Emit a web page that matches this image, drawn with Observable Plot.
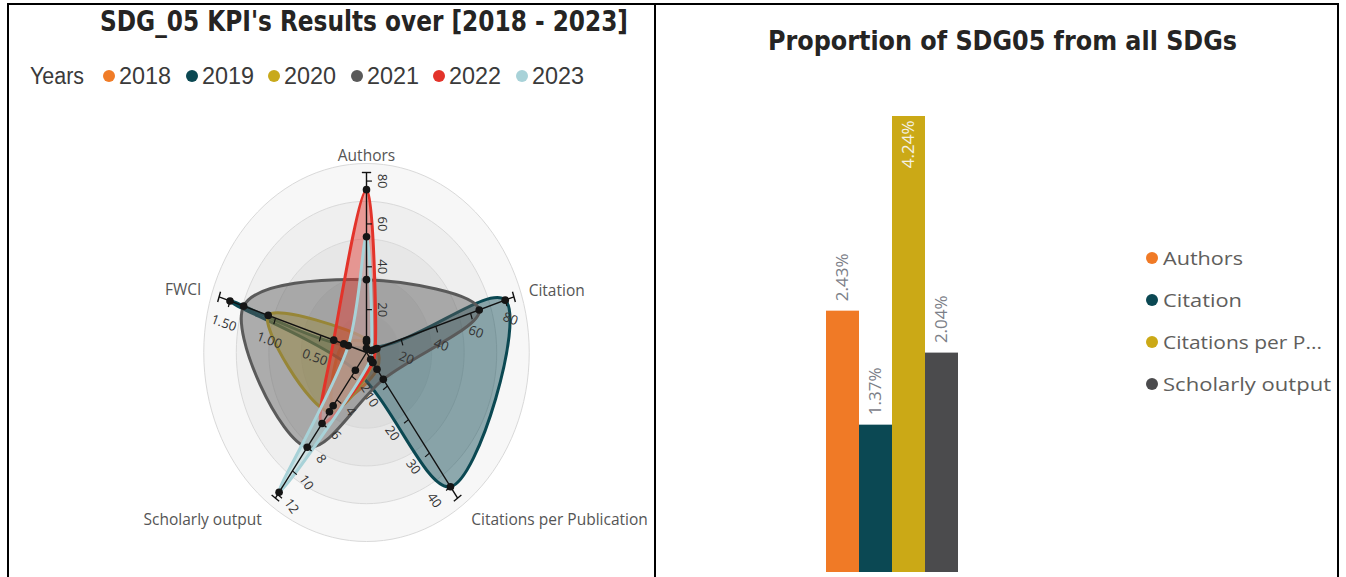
<!DOCTYPE html>
<html><head><meta charset="utf-8">
<script src="https://cdn.jsdelivr.net/npm/d3@7"></script>
<script src="https://cdn.jsdelivr.net/npm/@observablehq/plot@0.6"></script>
<style>
html,body{margin:0;padding:0;background:#fff;}
body{width:1346px;height:577px;position:relative;overflow:hidden;}
.rule{position:absolute;background:#000;}
.txt{position:absolute;white-space:nowrap;line-height:1;transform-origin:0 50%;}
.title{font-family:"Liberation Sans Narrow","DejaVu Sans Condensed","Liberation Sans",sans-serif;font-weight:bold;color:#252423;}
.dot{position:absolute;border-radius:50%;}
#radar,#bars{position:absolute;left:0;top:0;}
</style></head><body>
<div id="radar"></div>
<div id="bars"></div>
<div class="rule" style="left:7px;top:3px;width:1332px;height:2px"></div>
<div class="rule" style="left:7px;top:3px;width:2px;height:574px"></div>
<div class="rule" style="left:654px;top:3px;width:2px;height:574px"></div>
<div class="rule" style="left:1337px;top:3px;width:2px;height:574px"></div>
<div class="txt title" style="left:100px;top:22px;font-size:28px" data-w="528">SDG_05 KPI's Results over [2018 - 2023]</div>
<div class="txt title" style="left:768px;top:40px;font-size:27px" data-w="469">Proportion of SDG05 from all SDGs</div>
<div id="legL"></div>
<div id="legR"></div>
<script>
// ---------- DATA ----------
const years = ["2018","2019","2020","2021","2022","2023"];
const yearColors = ["#F07C27","#0B4852","#C8A91B","#5A5A5A","#E3332A","#A8D2D8"];
const kpis = ["Authors","Citation","Citations per Publication","Scholarly output","FWCI"];
const kpiMax = [84, 85, 43.4, 12.3, 1.62];
const authors         = [5, 2, 6, 34, 76, 54];
const citation        = [6, 80, 3, 65, 5, 3];
const citationsPerPub = [5, 40, 3, 8, 3, 2];
const scholarlyOutput = [4.5, 1.5, 5, 8, 6, 11.8];
const fwci            = [0.25, 1.5, 1.08, 1.35, 0.36, 0.2];
const axisTicks = [[20,40,60,80],[20,40,60,80],[10,20,30,40],[2,4,6,8,10,12],[0.5,1,1.5]];

const barCats = ["Authors","Citation","Citations per Publication","Scholarly output"];
const barLegend = ["Authors","Citation","Citations per P...","Scholarly output"];
const barValues = [2.43, 1.37, 4.24, 2.04];
const barColors = ["#F07A26","#0B4853","#CBA916","#4B4B4D"];

// ---------- RADAR ----------
const series = [authors, citation, citationsPerPub, scholarlyOutput, fwci];
const ang = j => 2*Math.PI*j/kpis.length;
const pts = years.flatMap((yr,i)=> kpis.map((k,j)=>{
  const t = series[j][i]/kpiMax[j];
  return {year:yr, kpi:k, value:series[j][i], x:t*Math.sin(ang(j)), y:t*Math.cos(ang(j))};
}));
const ringLevels = [1.05,0.84,0.63,0.42,0.21];
const ringPts = ringLevels.flatMap(l => d3.range(0,361,3).map(d=>({ring:l, x:l*Math.sin(d*Math.PI/180), y:l*Math.cos(d*Math.PI/180)})));
const axes = kpis.map((k,j)=>({kpi:k, x:Math.sin(ang(j)), y:Math.cos(ang(j))}));
const side = [1,1,1,-1,-1];
const labK = [0.1,0.11,0.13,0.11,0.13];
const labRot = [90,20,55,55,20];
const fmt = [d3.format("d"),d3.format("d"),d3.format("d"),d3.format("d"),d3.format(".2f")];
const ticks = kpis.flatMap((k,j)=> axisTicks[j].map(v=>{
  const t=v/kpiMax[j], a=ang(j);
  const nx=Math.cos(a)*side[j], ny=-Math.sin(a)*side[j];
  const px=t*Math.sin(a), py=t*Math.cos(a);
  return {kpi:k, x1:px, y1:py, x2:px+nx*0.035, y2:py+ny*0.035, lx:px+nx*labK[j], ly:py+ny*labK[j], rot:labRot[j], label:fmt[j](v)};
}));
const caps = kpis.map((k,j)=>{
  const a=ang(j), nx=Math.cos(a), ny=-Math.sin(a), px=Math.sin(a), py=Math.cos(a);
  return {x1:px-nx*0.03, y1:py-ny*0.03, x2:px+nx*0.03, y2:py+ny*0.03};
});
const labR = [1.09,1.1,1.15,1.15,1.12];
const anchors = ["middle","start","start","end","end"];
const names = kpis.map((k,j)=>({kpi:k, x:Math.sin(ang(j))*labR[j], y:Math.cos(ang(j))*labR[j], anchor:anchors[j]}));

const cx=366, cy=352, rx=155, ry=180;
const radar = Plot.plot({
  width:655, height:577,
  x:{domain:[-1,1], range:[cx-rx, cx+rx], axis:null},
  y:{domain:[-1,1], range:[cy+ry, cy-ry], axis:null},
  color:{domain:years, range:yearColors},
  style:{background:"transparent", overflow:"visible"},
  marks:[
    Plot.line(ringPts,{x:"x", y:"y", z:"ring", fill:"#000", fillOpacity:0.03, stroke:"#d9d9d9", strokeWidth:1, curve:"linear-closed"}),
    Plot.line(pts,{x:"x", y:"y", z:"year", stroke:"year", fill:"year", fillOpacity:0.45, strokeWidth:3, curve:"catmull-rom-closed"}),
    Plot.link(axes,{x1:0, y1:0, x2:"x", y2:"y", stroke:"#111", strokeWidth:1.4}),
    Plot.link(caps,{x1:"x1", y1:"y1", x2:"x2", y2:"y2", stroke:"#111", strokeWidth:1.4}),
    Plot.link(ticks,{x1:"x1", y1:"y1", x2:"x2", y2:"y2", stroke:"#111", strokeWidth:1.2}),
    Plot.text(ticks,{x:"lx", y:"ly", text:"label", rotate:"rot", fontSize:13, fill:"#333", fontFamily:"Open Sans, sans-serif"}),
    Plot.dot(pts,{x:"x", y:"y", r:3.8, fill:"#151515"}),
    ...["middle","start","end"].map(an => Plot.text(names.filter(d=>d.anchor===an),{x:"x", y:"y", text:"kpi", textAnchor:an, fontSize:15.5, fill:"#555", fontFamily:"Open Sans, sans-serif"}))
  ]
});
document.getElementById("radar").append(radar);

// ---------- BARS ----------
const barData = barCats.map((c,i)=>({cat:c, value:barValues[i], label:d3.format(".2f")(barValues[i])+"%"}));
const maxV = d3.max(barValues);
const bars = Plot.plot({
  width:1346, height:577,
  x:{type:"band", domain:barCats, range:[826,958], padding:0, axis:null},
  y:{domain:[0,maxV], range:[572,116], axis:null},
  color:{domain:barCats, range:barColors},
  style:{background:"transparent", overflow:"visible"},
  marks:[
    Plot.barY(barData,{x:"cat", y:"value", fill:"cat"}),
    Plot.text(barData.filter(d=>d.value<maxV),{x:"cat", y:"value", text:"label", rotate:-90, textAnchor:"start", dy:-10, fill:"#7c8088", fontSize:17, fontFamily:"Open Sans, sans-serif"}),
    Plot.text(barData.filter(d=>d.value===maxV),{x:"cat", y:"value", text:"label", rotate:-90, textAnchor:"end", dy:4, fill:"#f4f1e4", fontSize:17, fontFamily:"Open Sans, sans-serif"})
  ]
});
document.getElementById("bars").append(bars);

// ---------- LEGENDS ----------
const legL = document.getElementById("legL");
legL.insertAdjacentHTML("beforeend", `<div class="txt" style="left:30px;top:76px;font-size:23px;font-family:'Liberation Sans Narrow','Liberation Sans',sans-serif;color:#3a3a3a" data-w="54">Years</div>`);
years.forEach((y,i)=>{
  const x0 = 109 + i*82.6;
  legL.insertAdjacentHTML("beforeend", `<div class="dot" style="left:${x0-6}px;top:${76-6}px;width:12px;height:12px;background:${yearColors[i]}"></div>`);
  legL.insertAdjacentHTML("beforeend", `<div class="txt" style="left:${x0+10}px;top:76px;font-size:23px;font-family:'Liberation Sans Narrow','Liberation Sans',sans-serif;color:#3a3a3a" data-w="52">${y}</div>`);
});
const legR = document.getElementById("legR");
const legRW = [80,79,159,168];
barLegend.forEach((c,i)=>{
  const yc = 258 + i*42;
  legR.insertAdjacentHTML("beforeend", `<div class="dot" style="left:${1146}px;top:${yc-6}px;width:12px;height:12px;background:${barColors[i]}"></div>`);
  legR.insertAdjacentHTML("beforeend", `<div class="txt" style="left:1163px;top:${yc}px;font-size:19px;font-family:'Open Sans',sans-serif;color:#605E5C" data-w="${legRW[i]}">${c}</div>`);
});

document.querySelectorAll(".txt").forEach(el=>{
  const w = el.getBoundingClientRect().width;
  const s = el.dataset.w ? (+el.dataset.w)/w : 1;
  el.style.transform = `translateY(-50%) scaleX(${s})`;
});
</script>
</body></html>
